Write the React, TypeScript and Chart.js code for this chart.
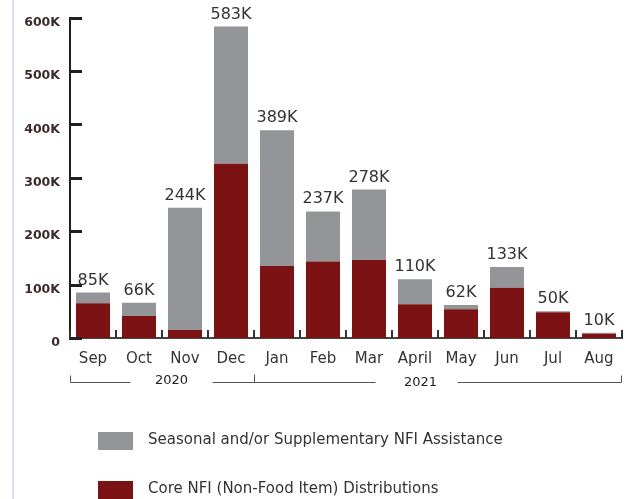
import { useEffect, useRef } from "react";
import { Chart, registerables } from "chart.js";

Chart.register(...registerables);

const months = ["Sep", "Oct", "Nov", "Dec", "Jan", "Feb", "Mar", "April", "May", "Jun", "Jul", "Aug"];
const coreNFI = [65000, 41000, 15000, 326000, 135000, 143000, 146000, 63000, 54000, 94000, 48000, 8000];
const seasonalNFI = [20000, 25000, 229000, 257000, 254000, 94000, 132000, 47000, 8000, 39000, 2000, 2000];
const yTickValues = [0, 100000, 200000, 300000, 400000, 500000, 600000];
const yearLabels = ["2020", "2021"];
const yearStartIndex = [0, 4];

const FONT = '"DejaVu Sans", Verdana, sans-serif';
const GRAY = "#939598";
const RED = "#7b1214";

const fmtK = (v: number) => (v === 0 ? "0" : `${Math.round(v / 1000)}K`);

const decorPlugin = {
  id: "decor",
  afterDatasetsDraw(chart: any) {
    const ctx = chart.ctx;
    const topMeta = chart.getDatasetMeta(1).data;
    ctx.save();
    ctx.font = `16px ${FONT}`;
    ctx.fillStyle = "#333";
    ctx.textAlign = "center";
    ctx.textBaseline = "alphabetic";
    months.forEach((_, i) => {
      const bar = topMeta[i];
      ctx.fillText(fmtK(coreNFI[i] + seasonalNFI[i]), bar.x, bar.y - 8);
    });
    ctx.restore();
  },
  afterDraw(chart: any) {
    const ctx = chart.ctx;
    const xs = chart.scales.x;
    const ys = chart.scales.y;
    const area = chart.chartArea;
    ctx.save();
    // y tick stubs (inward)
    ctx.strokeStyle = "#231f20";
    ctx.lineWidth = 3;
    yTickValues.forEach((v) => {
      const py = Math.round(ys.getPixelForValue(v)) + 0.5;
      ctx.beginPath();
      ctx.moveTo(area.left - 1, py);
      ctx.lineTo(area.left + 12, py);
      ctx.stroke();
    });
    // x boundary stubs (inward)
    const n = months.length;
    const w = (xs.right - xs.left) / n;
    ctx.lineWidth = 2;
    ctx.strokeStyle = "#333";
    for (let i = 0; i <= n; i++) {
      const px = Math.round(xs.left + i * w);
      ctx.beginPath();
      ctx.moveTo(px, area.bottom);
      ctx.lineTo(px, area.bottom - 8);
      ctx.stroke();
    }
    // year brackets
    const by = area.bottom + 44.5;
    const midX = Math.round(xs.left + yearStartIndex[1] * w) + 0.5;
    const leftX = xs.left + 0.5;
    const rightX = xs.right - 0.5;
    ctx.strokeStyle = "#555";
    ctx.lineWidth = 1;
    ctx.beginPath();
    ctx.moveTo(leftX, by - 7);
    ctx.lineTo(leftX, by);
    ctx.lineTo(leftX + 60, by);
    ctx.moveTo(leftX + 142, by);
    ctx.lineTo(midX + 121, by);
    ctx.moveTo(midX, by - 8);
    ctx.lineTo(midX, by);
    ctx.moveTo(midX + 203, by);
    ctx.lineTo(rightX, by);
    ctx.lineTo(rightX, by - 7);
    ctx.stroke();
    ctx.font = `13px ${FONT}`;
    ctx.fillStyle = "#222";
    ctx.textAlign = "center";
    ctx.textBaseline = "middle";
    ctx.fillText(yearLabels[0], leftX + 101, by - 2);
    ctx.fillText(yearLabels[1], midX + 166, by);
    // legend
    const ds = chart.data.datasets;
    const items = [ds[1], ds[0]];
    ctx.font = `15px ${FONT}`;
    ctx.textAlign = "left";
    items.forEach((d: any, k: number) => {
      const ty = 432 + k * 49;
      ctx.fillStyle = d.backgroundColor;
      ctx.fillRect(98, ty, 35, 18);
      ctx.fillStyle = "#333";
      ctx.fillText(d.label, 148, ty + 8);
    });
    ctx.restore();
  },
};

export default function App() {
  const ref = useRef<HTMLCanvasElement>(null);
  useEffect(() => {
    if (!ref.current) return;
    const chart = new Chart(ref.current, {
      type: "bar",
      data: {
        labels: months,
        datasets: [
          {
            label: "Core NFI (Non-Food Item) Distributions",
            data: coreNFI,
            backgroundColor: RED,
            categoryPercentage: 1,
            barPercentage: 0.74,
          },
          {
            label: "Seasonal and/or Supplementary NFI Assistance",
            data: seasonalNFI,
            backgroundColor: GRAY,
            categoryPercentage: 1,
            barPercentage: 0.74,
          },
        ],
      },
      options: {
        responsive: false,
        maintainAspectRatio: false,
        animation: false,
        devicePixelRatio: 1,
        layout: { padding: { top: 14, right: 7, left: 0, bottom: 0 } },
        plugins: {
          legend: { display: false },
          tooltip: { enabled: false },
        },
        scales: {
          x: {
            stacked: true,
            grid: { display: false, drawTicks: false },
            border: { display: true, color: "#444", width: 2 },
            ticks: {
              color: "#333",
              font: { family: FONT, size: 15 },
              padding: 12,
              maxRotation: 0,
              autoSkip: false,
            },
            afterFit: (s: any) => {
              s.height = 161;
            },
          },
          y: {
            stacked: true,
            min: 0,
            max: 600000,
            grid: { display: false, drawTicks: false },
            border: { display: true, color: "#231f20", width: 2 },
            afterBuildTicks: (s: any) => {
              s.ticks = yTickValues.map((v) => ({ value: v }));
            },
            ticks: {
              color: "#3d2b2b",
              font: { family: FONT, size: 12.5, weight: "bold" },
              padding: 10,
              labelOffset: 5,
              callback: (v: any) => fmtK(Number(v)),
            },
            afterFit: (s: any) => {
              s.width = 70;
            },
          },
        },
      },
      plugins: [decorPlugin],
    });
    return () => chart.destroy();
  }, []);
  return (
    <div style={{ position: "absolute", left: 0, top: 0, width: 629, height: 499, background: "#fff" }}>
      <div style={{ position: "absolute", left: 12, top: 0, width: 2, height: 499, background: "#d3e2f4" }} />
      <canvas ref={ref} width={629} height={499} style={{ display: "block", width: 629, height: 499 }} />
    </div>
  );
}
